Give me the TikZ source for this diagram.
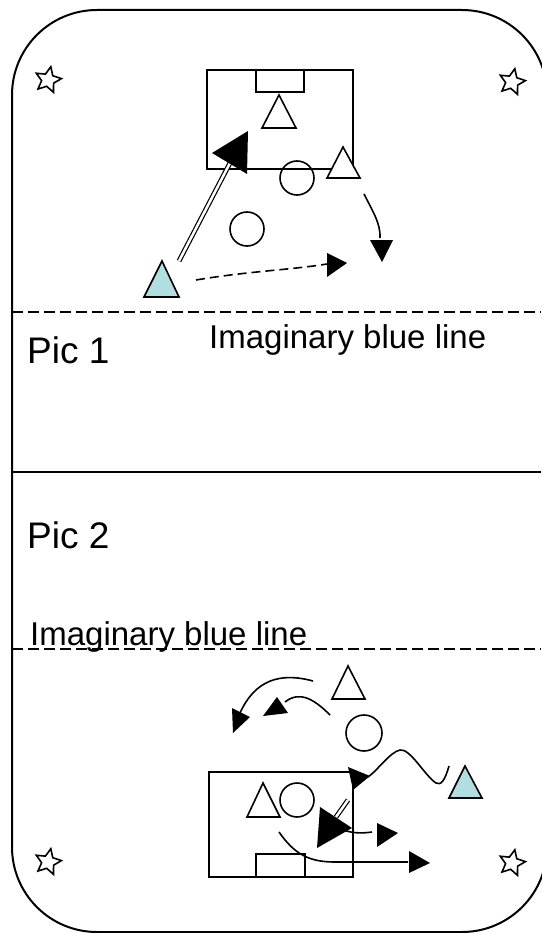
\documentclass[tikz,border=0pt]{standalone}
\usepackage{fontspec}
\setmainfont{Liberation Sans}
\usetikzlibrary{shapes.geometric}
\definecolor{iceblue}{RGB}{176,222,225}

\begin{document}
\begin{tikzpicture}[x=1pt,y=-1pt,
    rink/.style={line width=2pt},
    player/.style={draw,line width=1.6pt,line join=miter},
    puck/.style={line width=1.6pt},
    path/.style={line width=1.6pt},
    blueline/.style={line width=1.8pt,dash pattern=on 11pt off 5pt},
    starmark/.style={star,star points=5,star point ratio=2.1,draw,line width=1.6pt,
        minimum size=27pt,inner sep=0pt,rotate=-12},
    lbl/.style={inner sep=0pt,anchor=base west}]
    \useasboundingbox (0,0) rectangle (541,933);

% 场地外框
    \draw[rink,rounded corners=85pt] (12,10) rectangle (547,932);
    \node[starmark] (starA) at (48,80) {};
    \node[starmark] (starB) at (512,82) {};
    \node[starmark] (starC) at (48,862) {};
    \node[starmark] (starD) at (512,863) {};

% 分隔线
    \draw[blueline] (12,312) -- (541,312);
    \draw[rink] (12,472) -- (541,472);
    \draw[blueline] (12,649) -- (541,649);
    \node[lbl,font=\fontsize{33}{36}\selectfont] (blueA) at (209,348) {Imaginary blue line};
    \node[lbl,font=\fontsize{37}{40}\selectfont] (picA) at (27,363) {Pic 1};
    \node[lbl,font=\fontsize{37}{40}\selectfont] (picB) at (27,548) {Pic 2};
    \node[lbl,font=\fontsize{33}{36}\selectfont] (blueB) at (30,645) {Imaginary blue line};

% 图1 球门
    \draw[rink] (207,70) rectangle (353,169);
    \draw[rink] (256,70) rectangle (304,92);
    \draw[player,fill=white] (279,95) -- ++(-17,33) -- ++(34,0) -- cycle;
    \draw[player,fill=white] (343,147) -- ++(-16,31) -- ++(33,0) -- cycle;
    \draw[player,fill=iceblue] (162,261) -- ++(-18,36) -- ++(35,0) -- cycle;
    \draw[puck] (297,178) circle (17pt);
    \draw[puck] (247,229) circle (17pt);

% 图1 传球与跑位
    \draw[path,double,double distance=2.5pt,line width=1.2pt] (179,261) -- (230,163);
    \fill (248,131) -- (212,153) -- (247,174) -- cycle;
    \draw[path] (364,194) .. controls (372,210) and (381,224) .. (380,238);
    \fill (370,240) -- (393,240) -- (382,262) -- cycle;
    \draw[path,dash pattern=on 9pt off 5pt] (196,280) .. controls (250,271) and (290,270) .. (327,264);
    \fill (327,253) -- (327,277) -- (347,263) -- cycle;

% 图2 球员
    \draw[player,fill=white] (348,666) -- ++(-16,33) -- ++(33,0) -- cycle;
    \draw[puck] (364,733) circle (18pt);
    \draw[player,fill=iceblue] (465,766) -- ++(-16,32) -- ++(33,0) -- cycle;

% 图2 球门
    \draw[rink] (209,772) rectangle (353,877);
    \draw[rink] (256,854) rectangle (305,877);
    \draw[player,fill=white] (263,783) -- ++(-16,34) -- ++(33,0) -- cycle;
    \draw[puck] (297,800) circle (17pt);

% 图2 传球与跑位
    \draw[path] (313,681) .. controls (280,672) and (255,680) .. (240,713);
    \fill (232,708) -- (250,717) -- (233,733) -- cycle;
    \draw[path] (330,715) .. controls (315,700) and (300,690) .. (285,702);
    \fill (277,697) -- (263,716) -- (288,713) -- cycle;
    \draw[path] (449,766) .. controls (445,780) and (441,786) .. (436,783)
        .. controls (425,776) and (410,748) .. (400,750)
        .. controls (390,752) and (378,770) .. (368,777);
    \fill (348,767) -- (370,776) -- (353,790) -- cycle;
    \draw[path,double,double distance=2.5pt,line width=1.2pt] (348,800) -- (336,817);
    \fill (320,807) -- (317,848) -- (352,828) -- cycle;
    \draw[path] (343,830) .. controls (355,834) and (365,833) .. (372,832);
    \fill (377,823) -- (377,847) -- (398,833) -- cycle;
    \draw[path] (279,832) .. controls (295,855) and (310,862) .. (335,862) -- (408,862);
    \fill (409,851) -- (409,873) -- (430,863) -- cycle;
\end{tikzpicture}
\end{document}
